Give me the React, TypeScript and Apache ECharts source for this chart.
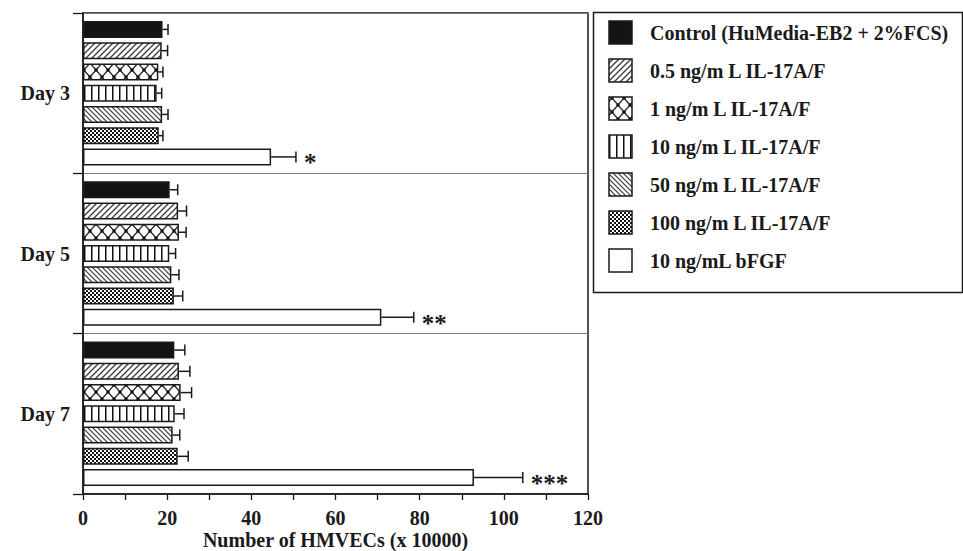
import React, { useEffect, useRef } from 'react';
import * as echarts from 'echarts';

// ---- data ----
const days = ['Day 3', 'Day 5', 'Day 7'];
const seriesNames = [
  'Control (HuMedia-EB2 + 2%FCS)',
  '0.5 ng/m L IL-17A/F',
  '1 ng/m L IL-17A/F',
  '10 ng/m L IL-17A/F',
  '50 ng/m L IL-17A/F',
  '100 ng/m L IL-17A/F',
  '10 ng/mL bFGF',
];
const control = [18.9, 20.6, 21.7];
const il05 = [18.7, 22.6, 22.8];
const il1 = [17.9, 22.8, 23.2];
const il10 = [17.5, 20.5, 21.8];
const il50 = [18.8, 21.0, 21.3];
const il100 = [18.0, 21.6, 22.5];
const bfgf = [44.7, 70.9, 92.9];

const controlErr = [1.3, 1.9, 2.5];
const il05Err = [1.4, 2.0, 2.6];
const il1Err = [1.1, 1.7, 2.6];
const il10Err = [1.2, 1.5, 2.2];
const il50Err = [1.4, 1.8, 1.7];
const il100Err = [1.0, 2.1, 2.5];
const bfgfErr = [5.9, 7.7, 11.6];

const significance = ['*', '**', '***'];
const xAxisTitle = 'Number of HMVECs (x 10000)';

const means = [control, il05, il1, il10, il50, il100, bfgf];
const errs = [controlErr, il05Err, il1Err, il10Err, il50Err, il100Err, bfgfErr];

// ---- layout constants ----
const BAR_W = 17;
const BAR_GAP = 0.25;
const CAP = 5.5;
const FONT = "'Liberation Serif', 'Times New Roman', serif";
const INK = '#1a1a1a';

type Tile = { image: HTMLCanvasElement; repeat: string; imageWidth: number; imageHeight: number };

function tile(w: number, h: number, draw: (ctx: CanvasRenderingContext2D) => void): Tile {
  const c = document.createElement('canvas');
  c.width = w;
  c.height = h;
  const ctx = c.getContext('2d') as CanvasRenderingContext2D;
  ctx.fillStyle = '#ffffff';
  ctx.fillRect(0, 0, w, h);
  draw(ctx);
  return { image: c, repeat: 'repeat', imageWidth: w, imageHeight: h };
}

function makeFills(): any[] {
  const fwd = tile(6, 6, (ctx) => {
    ctx.strokeStyle = '#3a3a3a';
    ctx.lineWidth = 1.3;
    ctx.beginPath();
    ctx.moveTo(-1, 7); ctx.lineTo(7, -1);
    ctx.moveTo(-1, 1); ctx.lineTo(1, -1);
    ctx.moveTo(5, 7); ctx.lineTo(7, 5);
    ctx.stroke();
  });
  const cross = tile(12, 14, (ctx) => {
    ctx.strokeStyle = '#222';
    ctx.lineWidth = 1.3;
    ctx.beginPath();
    ctx.moveTo(0, 0); ctx.lineTo(12, 14);
    ctx.moveTo(12, 0); ctx.lineTo(0, 14);
    ctx.stroke();
    ctx.fillStyle = '#111';
    const pts = [[6, 7], [0, 0], [12, 0], [0, 14], [12, 14]];
    pts.forEach(([x, y]) => { ctx.beginPath(); ctx.arc(x, y, 1.7, 0, Math.PI * 2); ctx.fill(); });
  });
  const vert = tile(7, 2, (ctx) => {
    ctx.fillStyle = '#111';
    ctx.fillRect(0, 0, 1.5, 2);
  });
  const back = tile(5, 5, (ctx) => {
    ctx.strokeStyle = '#3a3a3a';
    ctx.lineWidth = 1.2;
    ctx.beginPath();
    ctx.moveTo(-1, -1); ctx.lineTo(6, 6);
    ctx.moveTo(-1, 4); ctx.lineTo(1, 6);
    ctx.moveTo(4, -1); ctx.lineTo(6, 1);
    ctx.stroke();
  });
  const checker = tile(4, 4, (ctx) => {
    ctx.fillStyle = '#111';
    ctx.fillRect(0, 0, 2, 2);
    ctx.fillRect(2, 2, 2, 2);
  });
  return ['#141414', fwd, cross, vert, back, checker, '#ffffff'];
}

export default function App() {
  const ref = useRef<HTMLDivElement>(null);

  useEffect(() => {
    if (!ref.current) return;
    document.body.style.margin = '0';
    const chart = echarts.init(ref.current, null, { renderer: 'svg' });
    const fills = makeFills();
    const n = seriesNames.length;

    const barSeries = seriesNames.map((name, i) => ({
      name,
      type: 'bar',
      data: means[i],
      barWidth: BAR_W,
      barGap: `${BAR_GAP * 100}%`,
      itemStyle: { color: fills[i], borderColor: '#1a1a1a', borderWidth: 1.5 },
      z: 2,
    }));

    const errData: number[][] = [];
    const errSig: string[] = [];
    for (let s = 0; s < n; s++) {
      for (let d = 0; d < days.length; d++) {
        errData.push([means[s][d], d, s, errs[s][d]]);
        errSig.push(s === n - 1 ? significance[d] : '');
      }
    }

    const errorSeries = {
      type: 'custom',
      name: 'error',
      z: 5,
      data: errData,
      encode: { x: 0, y: 1 },
      renderItem: (params: any, api: any) => {
        const mean = api.value(0);
        const d = api.value(1);
        const s = api.value(2);
        const e = api.value(3);
        const base = api.coord([mean, d]);
        const hi = api.coord([mean + e, d]);
        const pitch = BAR_W * (1 + BAR_GAP);
        const y = base[1] + (s - (n - 1) / 2) * pitch;
        const st = { stroke: '#1a1a1a', lineWidth: 1.5 };
        const children: any[] = [
          { type: 'line', shape: { x1: base[0], y1: y, x2: hi[0], y2: y }, style: st },
          { type: 'line', shape: { x1: hi[0], y1: y - CAP, x2: hi[0], y2: y + CAP }, style: st },
        ];
        const sig = errSig[params.dataIndex];
        if (sig) {
          children.push({
            type: 'text',
            x: hi[0] + 8,
            y: y + 6,
            style: {
              text: sig,
              font: `bold 25px ${FONT}`,
              fill: INK,
              textAlign: 'left',
              textVerticalAlign: 'middle',
            },
          });
        }
        return { type: 'group', children };
      },
    };

    // legend built from the series names
    const legLeft = 609;
    const legTop = 21;
    const legPitch = 38;
    const iconSize = 23;
    const legendChildren: any[] = [
      {
        type: 'rect',
        shape: { x: 593.5, y: 12.5, width: 369, height: 280 },
        style: { fill: 'none', stroke: '#1a1a1a', lineWidth: 1.5 },
      },
    ];
    seriesNames.forEach((name, i) => {
      const top = legTop + i * legPitch;
      legendChildren.push({
        type: 'rect',
        shape: { x: legLeft, y: top, width: iconSize, height: iconSize },
        style: { fill: fills[i], stroke: '#1a1a1a', lineWidth: 1.5 },
      });
      legendChildren.push({
        type: 'text',
        x: 650,
        y: top + iconSize / 2,
        style: {
          text: name,
          font: `bold 20px ${FONT}`,
          fill: INK,
          textAlign: 'left',
          textVerticalAlign: 'middle',
        },
      });
    });

    chart.setOption({
      animation: false,
      backgroundColor: '#ffffff',
      grid: {
        left: 83,
        right: 375,
        top: 13,
        bottom: 57,
        containLabel: false,
        outerBoundsMode: 'none',
        show: true,
        borderColor: '#1a1a1a',
        borderWidth: 1.5,
        backgroundColor: 'transparent',
      },
      xAxis: {
        type: 'value',
        min: 0,
        max: 120,
        interval: 20,
        name: xAxisTitle,
        nameLocation: 'middle',
        nameGap: 36,
        nameMoveOverlap: false,
        nameTextStyle: { fontFamily: FONT, fontWeight: 'bold', fontSize: 20, color: INK },
        axisLine: { show: true, lineStyle: { color: '#1a1a1a', width: 1.5 } },
        axisTick: { show: true, length: 6, lineStyle: { color: '#1a1a1a', width: 1.3 } },
        minorTick: { show: true, splitNumber: 2, length: 6, lineStyle: { color: '#1a1a1a', width: 1.3 } },
        axisLabel: { fontFamily: FONT, fontWeight: 'bold', fontSize: 20, color: INK, margin: 14 },
        splitLine: { show: false },
      },
      yAxis: {
        type: 'category',
        data: days,
        inverse: true,
        axisLine: { show: true, lineStyle: { color: '#1a1a1a', width: 1.5 } },
        axisTick: { show: true, length: 10, lineStyle: { color: '#1a1a1a', width: 1.3 } },
        axisLabel: { fontFamily: FONT, fontWeight: 'bold', fontSize: 20, color: INK, margin: 13 },
        splitLine: { show: true, lineStyle: { color: '#7a7a7a', width: 1.2 } },
      },
      series: [...barSeries, errorSeries],
      graphic: [{ type: 'group', children: legendChildren }],
    });

    return () => chart.dispose();
  }, []);

  return (
    <div
      ref={ref}
      style={{ position: 'fixed', left: 0, top: 0, width: 963, height: 551, background: '#fff' }}
    />
  );
}
